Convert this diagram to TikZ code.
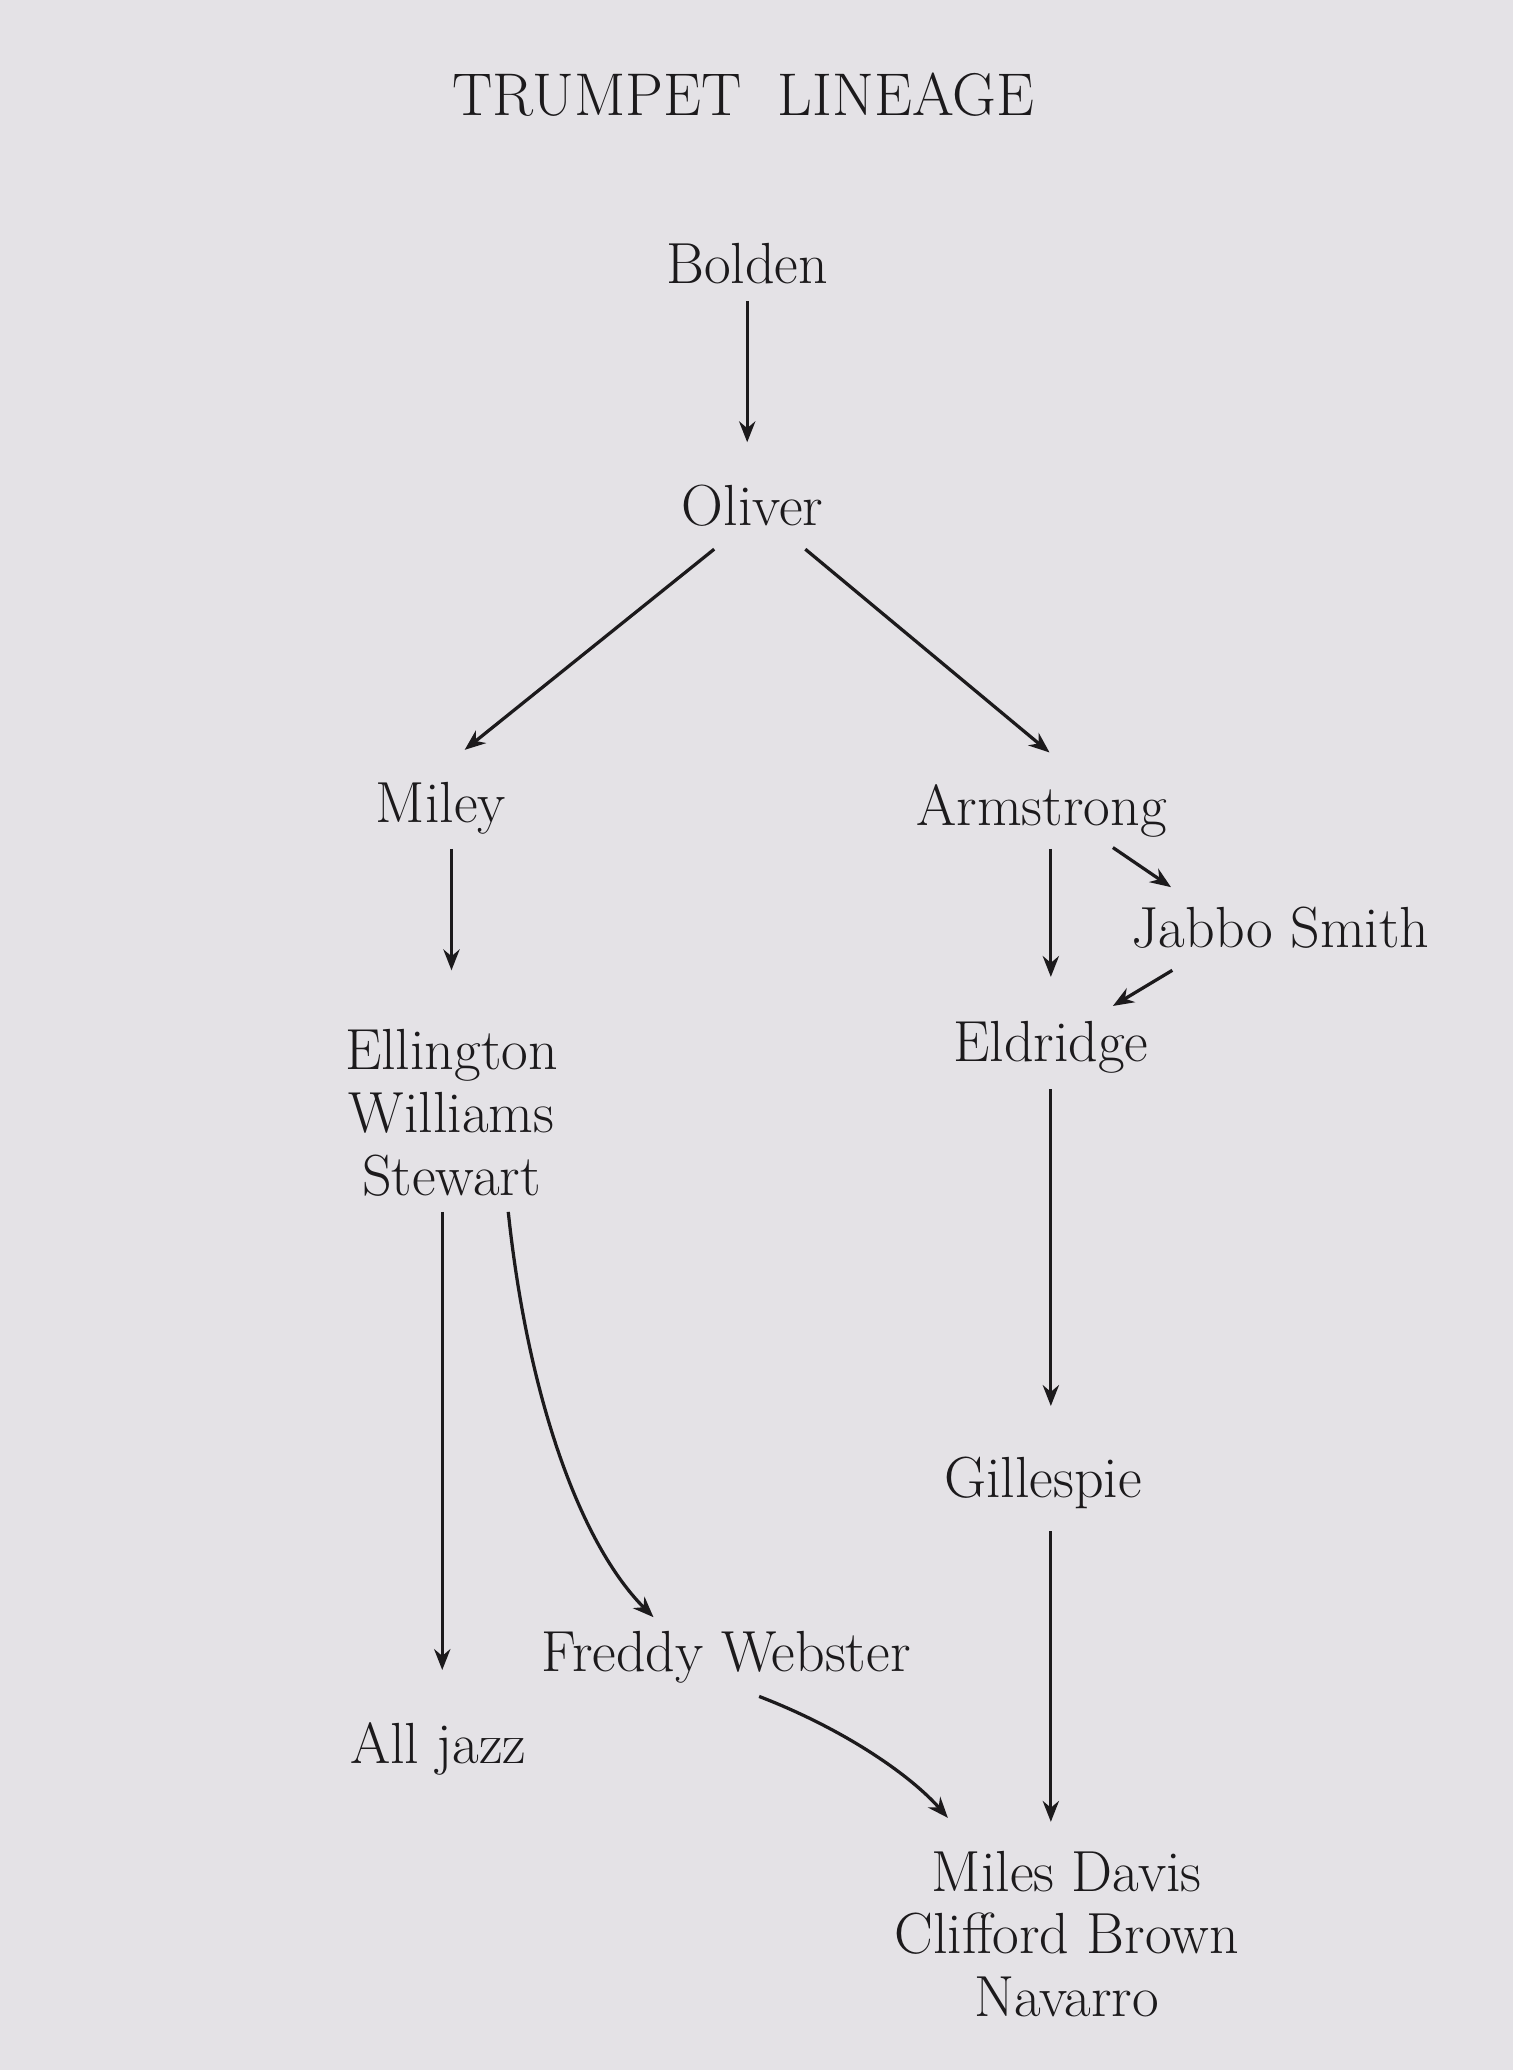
\documentclass[tikz,border=0pt]{standalone}
\usetikzlibrary{arrows.meta}
\definecolor{bg}{RGB}{228,226,230}
\definecolor{ink}{RGB}{28,26,28}
\begin{document}
\begin{tikzpicture}[x=0.02cm,y=-0.02cm,
  lbl/.style={text=ink,font=\fontsize{25}{27}\selectfont,align=center,inner sep=0pt},
  arr/.style={draw=ink,line width=1.4pt,-{Stealth[length=9pt,width=7pt]}}]
\fill[bg] (0,0) rectangle (1146,1568);
\useasboundingbox (0,0) rectangle (1146,1568);
\node[lbl,font=\fontsize{26}{30}\selectfont] (title) at (563,72) {TRUMPET\ \ LINEAGE};
\node[lbl] (bolden) at (566,200) {Bolden};
\node[lbl] (oliver) at (570,383) {Oliver};
\node[lbl] (miley) at (334,612) {Miley};
\node[lbl] (arm) at (789,614) {Armstrong};
\node[lbl] (jabbo) at (970,703) {Jabbo Smith};
\node[lbl] (ell) at (342,843) {Ellington\\Williams\\Stewart};
\node[lbl] (eld) at (796,793) {Eldridge};
\node[lbl] (gil) at (790,1123) {Gillespie};
\node[lbl] (fred) at (550,1255) {Freddy Webster};
\node[lbl] (all) at (332,1325) {All jazz};
\node[lbl] (miles) at (808,1465) {Miles Davis\\Clifford Brown\\Navarro};
\draw[arr] (566,228) -- (566,335);
\draw[arr] (541,416) -- (352,568);
\draw[arr] (610,416) -- (795,570);
\draw[arr] (342,643) -- (342,735);
\draw[arr] (796,643) -- (796,740);
\draw[arr] (843,642) -- (887,672);
\draw[arr] (888,735) -- (843,762);
\draw[arr] (796,825) -- (796,1065);
\draw[arr] (335,918) -- (335,1265);
\draw[arr] (385,918) .. controls (400,1060) and (440,1170) .. (495,1225);
\draw[arr] (796,1160) -- (796,1380);
\draw[arr] (575,1285) .. controls (640,1310) and (690,1345) .. (718,1377);
\end{tikzpicture}
\end{document}
